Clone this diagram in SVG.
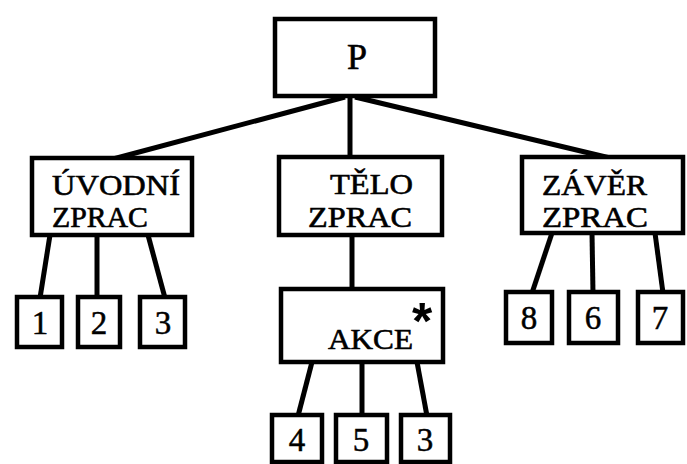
<svg xmlns="http://www.w3.org/2000/svg" width="687" height="464" viewBox="0 0 687 464">
<style>
.box{fill:#fff;stroke:#000;stroke-width:4.5}
.ln{stroke:#000;stroke-width:5;fill:none;stroke-linecap:butt}
.t{font-family:"Liberation Serif","DejaVu Serif",serif;font-size:29px;fill:#000;stroke:#000;stroke-width:0.6}
.n{font-family:"Liberation Serif","DejaVu Serif",serif;font-size:33px;fill:#000;text-anchor:middle;stroke:#000;stroke-width:0.5}
</style>
<rect width="687" height="464" fill="#fff"/>
<g id="connectors">
<line class="ln" x1="345" y1="97" x2="113" y2="159"/>
<line class="ln" x1="350" y1="96" x2="350" y2="158"/>
<line class="ln" x1="355" y1="97" x2="610" y2="158"/>
<line class="ln" x1="50" y1="235" x2="40" y2="298"/>
<line class="ln" x1="97" y1="235" x2="97" y2="298"/>
<line class="ln" x1="148" y1="235" x2="165" y2="298"/>
<line class="ln" x1="352" y1="235" x2="352" y2="290"/>
<line class="ln" x1="312" y1="362" x2="298" y2="416"/>
<line class="ln" x1="362" y1="362" x2="362" y2="416"/>
<line class="ln" x1="417" y1="362" x2="427" y2="416"/>
<line class="ln" x1="552" y1="233" x2="532" y2="293"/>
<line class="ln" x1="592" y1="233" x2="593" y2="293"/>
<line class="ln" x1="655" y1="233" x2="663" y2="293"/>
</g>
<g id="P"><rect class="box" x="275" y="19" width="160" height="77"/><text class="t" x="357" y="69" text-anchor="middle" style="font-size:36px">P</text></g>
<g id="uvodni"><rect class="box" x="32" y="158" width="160" height="77"/><text class="t" x="52" y="195" textLength="128" lengthAdjust="spacingAndGlyphs">ÚVODNÍ</text><text class="t" x="52" y="227" textLength="96" lengthAdjust="spacingAndGlyphs">ZPRAC</text></g>
<g id="telo"><rect class="box" x="279" y="157" width="163" height="78"/><text class="t" x="330" y="194" textLength="83" lengthAdjust="spacingAndGlyphs">TĚLO</text><text class="t" x="308" y="227" textLength="104" lengthAdjust="spacingAndGlyphs">ZPRAC</text></g>
<g id="zaver"><rect class="box" x="522" y="157" width="161" height="76"/><text class="t" x="542" y="195" textLength="105" lengthAdjust="spacingAndGlyphs">ZÁVĚR</text><text class="t" x="542" y="227" textLength="106" lengthAdjust="spacingAndGlyphs">ZPRAC</text></g>
<g id="akce"><rect class="box" x="281" y="289" width="162" height="73"/><text class="t" x="328" y="349" textLength="85" lengthAdjust="spacingAndGlyphs">AKCE</text><text x="422" y="339" text-anchor="middle" style="font-family:'Liberation Sans',sans-serif;font-weight:bold;font-size:52px">*</text></g>
<g id="n1"><rect class="box" x="17" y="297" width="45" height="50"/><text class="n" x="40" y="334">1</text></g>
<g id="n2"><rect class="box" x="78" y="297" width="42" height="50"/><text class="n" x="99" y="334">2</text></g>
<g id="n3a"><rect class="box" x="140" y="297" width="45" height="50"/><text class="n" x="163" y="334">3</text></g>
<g id="n8"><rect class="box" x="506" y="292" width="46" height="51"/><text class="n" x="529" y="329">8</text></g>
<g id="n6"><rect class="box" x="569" y="292" width="49" height="51"/><text class="n" x="593" y="329">6</text></g>
<g id="n7"><rect class="box" x="638" y="292" width="45" height="51"/><text class="n" x="660" y="329">7</text></g>
<g id="n4"><rect class="box" x="272" y="415" width="50" height="47"/><text class="n" x="297" y="451">4</text></g>
<g id="n5"><rect class="box" x="336" y="415" width="51" height="47"/><text class="n" x="361" y="451">5</text></g>
<g id="n3b"><rect class="box" x="401" y="415" width="49" height="47"/><text class="n" x="425" y="451">3</text></g>
</svg>
